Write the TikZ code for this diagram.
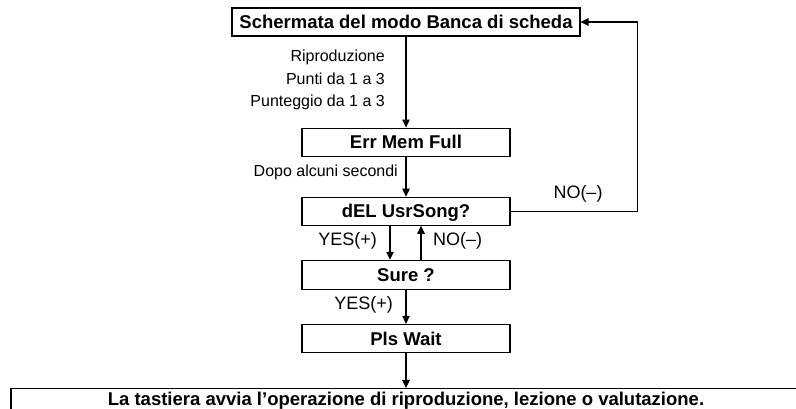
\documentclass[tikz,border=0pt]{standalone}
\usepackage{fontspec}
\setmainfont{Liberation Sans}
\usetikzlibrary{arrows.meta,positioning,calc}
\tikzset{
  schermo/.style={rectangle, draw=black, line width=1.1pt, minimum height=28pt,
                  minimum width=#1, inner sep=0pt, text height=13.5pt, text depth=0pt,
                  font=\fontsize{18.5}{22}\selectfont\bfseries},
  schermo/.default=208pt,
  nota/.style={inner sep=0pt, font=\fontsize{16}{22.5}\selectfont},
  tasto/.style={inner sep=0pt, font=\fontsize{18}{22}\selectfont},
  arr/.style={-{Triangle[length=8pt,width=7.5pt]}, line width=1.1pt},
}
\begin{document}
\begin{tikzpicture}[x=1pt,y=1pt]
  \useasboundingbox (0,0) rectangle (796,-408);
  \node[schermo=348pt] (banca) at (406,-22) {Schermata del modo Banca di scheda};
  \node[schermo, below=91pt of banca] (err) {Err Mem Full};
  \node[schermo, below=40pt of err] (del) {dEL UsrSong?};
  \node[schermo, minimum height=29pt, below=34pt of del] (sure) {Sure ?};
  \node[schermo, below=34pt of sure] (wait) {Pls Wait};
  \node[schermo=790pt, text height=17pt, text depth=20pt, below=35pt of wait] (avvio)
    {La tastiera avvia l’operazione di riproduzione, lezione o valutazione.};
  \node[nota, align=right, anchor=north east] (cond) at (385,-50)
    {Riproduzione\\Punti da 1 a 3\\Punteggio da 1 a 3};
  \node[nota, anchor=base east] (dopo) at (398,-176) {Dopo alcuni secondi};
  \node[tasto, anchor=base east] (si1) at (377,-245) {YES(+)};
  \node[tasto, anchor=base west] (no1) at (433,-245) {NO(–)};
  \node[tasto, anchor=base] (no2) at (578,-198) {NO(–)};
  \node[tasto, anchor=base east] (si2) at (393,-309) {YES(+)};
  \draw[arr] (banca) -- (err);
  \draw[arr] (err) -- (del);
  \draw[arr] ([xshift=-16pt]del.south) -- ([xshift=-16pt]sure.north);
  \draw[arr] ([xshift=15pt]sure.north) -- ([xshift=15pt]del.south);
  \draw[arr] (sure) -- (wait);
  \draw[arr] (wait.south) -- (avvio.north);
  \draw[arr] (del.east) -- ++(127,0) |- (banca.east);
\end{tikzpicture}
\end{document}
